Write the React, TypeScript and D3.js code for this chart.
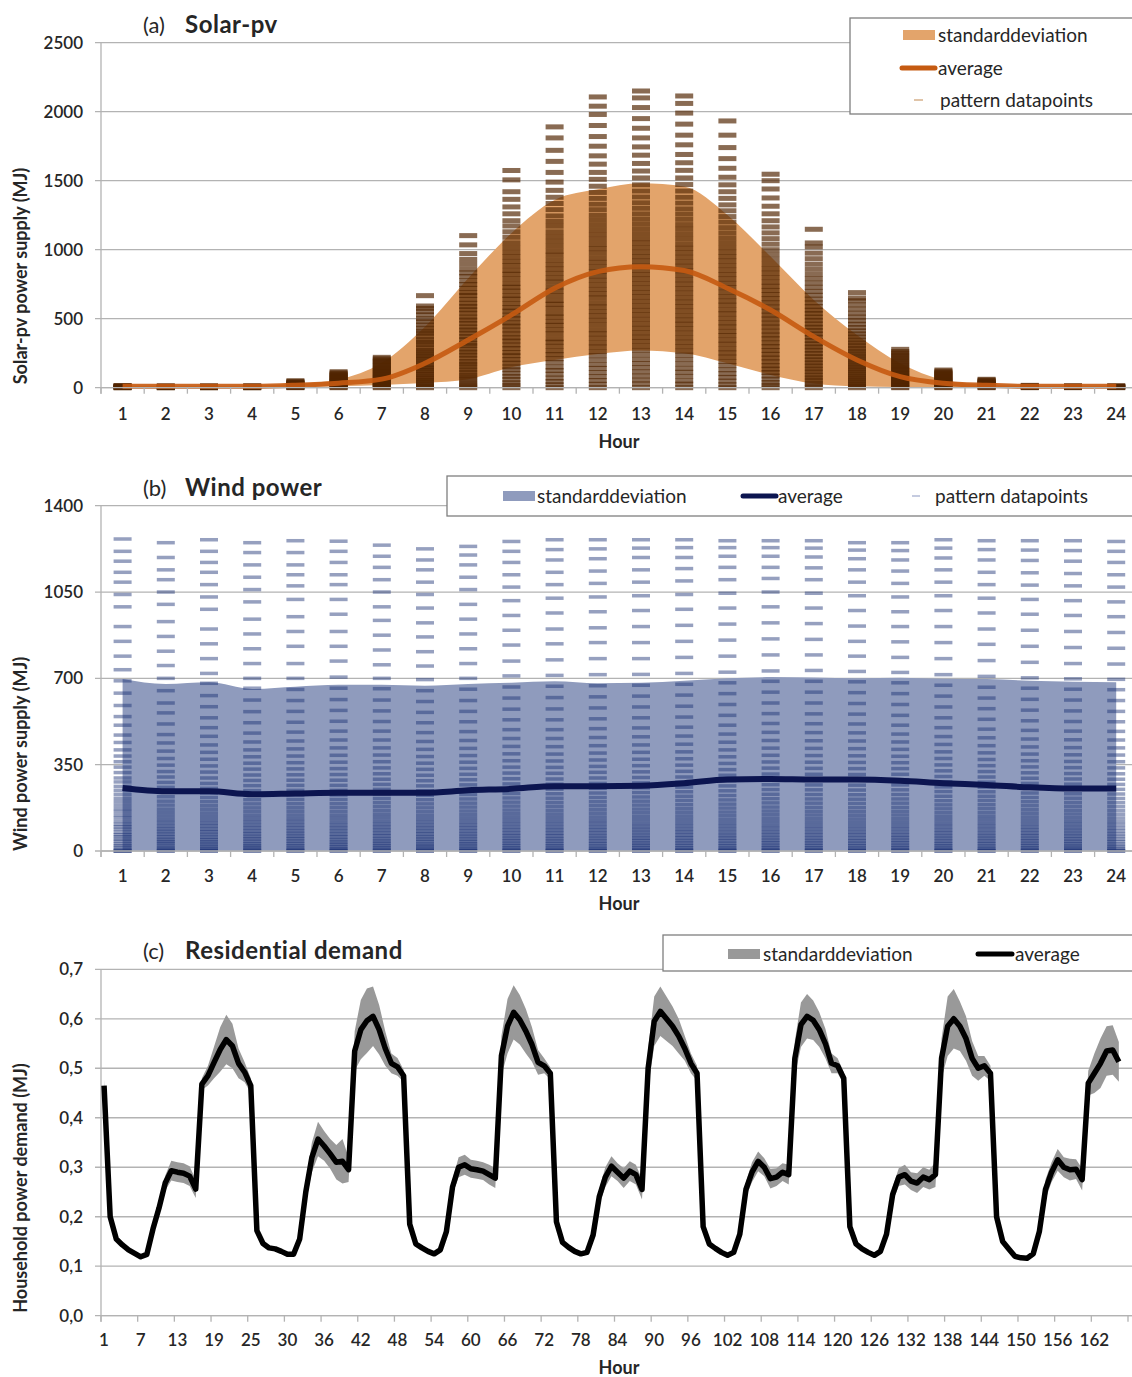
import React from 'react';
import * as d3 from 'd3';

// ---- data ----
const hourLabels = ['1','2','3','4','5','6','7','8','9','10','11','12','13','14','15','16','17','18','19','20','21','22','23','24'];

const solarTicks = [0, 500, 1000, 1500, 2000, 2500];
const solarAvg = [10,10,10,10,18,33,62,177,346,527,721,841,877,849,721,563,370,201,80,32,17,10,10,10];
const solarUpper = [15,15,15,15,28,60,180,442,793,1120,1361,1438,1482,1458,1252,950,636,382,177,56,22,15,15,15];
const solarLower = [5,5,5,5,8,10,20,34,61,148,201,244,270,249,177,92,30,10,5,5,5,5,5,5];
const solarPoints = [
  [0,0,2,4,6,8,10,12,14,15],
  [0,0,2,4,6,8,10,12,13],
  [0,0,2,4,6,8,10,12,13],
  [0,0,2,4,6,8,10,12,14],
  [0,2,4,7,10,13,16,19,22,25,28,32,36,40,45,51],
  [0,4,8,12,16,20,25,30,35,40,45,50,56,62,68,74,80,87,94,101,108,116],
  [0,6,12,18,24,30,38,46,54,62,70,78,86,95,104,113,122,131,140,150,160,170,180,190,200,210,220],
  [0,8,15,28,40,52,66,78,95,108,124,140,151,170,188,205,222,236,255,270,290,312,330,348,372,395,410,432,455,478,500,528,552,575,592,667],
  [0,12,25,41,58,76,90,112,130,152,171,190,214,236,258,280,305,322,348,370,395,418,440,466,490,512,540,565,588,612,640,668,690,720,748,775,806,832,860,895,930,972,1035,1102],
  [0,18,36,60,82,105,130,151,178,204,232,255,284,310,338,362,390,418,446,470,500,526,555,580,610,642,668,700,728,755,790,822,850,884,915,948,980,1015,1050,1090,1130,1172,1210,1260,1310,1365,1420,1506,1574],
  [0,22,45,70,98,125,150,182,210,240,268,300,330,355,390,420,452,480,512,540,575,605,632,668,700,730,765,795,828,860,892,925,960,990,1025,1060,1095,1130,1170,1205,1245,1290,1335,1380,1430,1490,1560,1640,1720,1810,1890],
  [0,25,52,80,110,140,168,200,232,262,295,325,358,390,420,455,488,520,552,585,615,650,680,712,745,778,810,842,875,908,940,975,1008,1040,1075,1110,1145,1180,1215,1250,1290,1330,1372,1415,1460,1510,1560,1620,1680,1750,1820,1900,1980,2040,2107],
  [0,28,55,85,115,145,175,205,238,270,302,335,366,398,430,462,495,528,560,592,625,658,690,722,755,788,820,852,885,918,950,982,1015,1048,1080,1115,1150,1186,1222,1260,1300,1340,1382,1425,1470,1520,1570,1625,1685,1745,1810,1880,1950,2030,2100,2150],
  [0,26,50,82,112,140,172,204,236,265,298,330,362,395,428,460,490,522,555,588,620,652,685,718,750,782,815,848,880,912,945,978,1010,1042,1078,1112,1148,1182,1220,1258,1296,1338,1380,1425,1472,1520,1575,1630,1690,1760,1830,1910,1990,2060,2114],
  [0,22,48,75,102,130,160,190,222,252,282,315,345,378,408,440,470,502,535,565,598,628,660,692,725,756,788,820,852,885,918,950,982,1015,1050,1085,1122,1160,1200,1240,1282,1325,1372,1420,1470,1525,1590,1660,1740,1830,1933],
  [0,18,38,62,85,110,135,160,188,215,242,270,298,325,355,382,410,440,468,498,526,555,585,615,645,675,705,735,765,798,830,862,895,930,965,1000,1040,1080,1122,1165,1210,1260,1315,1375,1440,1500,1547],
  [0,15,32,52,72,92,115,136,158,180,202,225,248,272,295,318,342,366,390,414,438,462,488,512,538,562,588,615,642,670,698,728,758,790,822,858,895,935,975,1020,1049,1148],
  [0,10,22,36,50,64,78,94,110,126,142,158,175,192,210,228,246,265,284,305,325,346,368,390,412,436,460,485,512,540,570,600,630,650,689],
  [0,5,12,20,28,36,45,54,63,72,82,92,102,112,122,133,144,155,166,178,190,202,214,226,238,250,262,278],
  [0,4,8,13,18,23,28,34,40,46,52,58,64,70,77,84,91,98,105,112,120,128],
  [0,3,6,10,14,18,22,26,31,36,41,46,51,56,61],
  [0,2,4,6,8,10,12,14,17],
  [0,2,4,6,8,10,12,14],
  [0,2,4,6,8,10,12,14],
];

const windTicks = [0, 350, 700, 1050, 1400];
const windAvg = [255,242,242,230,233,236,236,236,246,252,263,263,265,275,290,292,290,290,285,275,268,258,253,253];
const windUpper = [697,677,684,657,666,674,674,670,677,682,688,680,682,690,700,705,703,700,702,698,697,690,686,684];
const windPoints = [
  [0,0,0,6,14,22,30,40,48,58,66,76,88,98,108,120,134,146,160,172,186,200,214,230,246,262,280,296,318,340,362,385,410,440,470,510,545,590,640,690,735,790,850,910,990,1040,1090,1130,1175,1215,1265],
  [0,0,5,12,20,30,38,47,57,68,79,90,102,115,128,142,156,170,186,202,220,238,258,278,300,322,348,375,405,438,472,515,560,600,650,700,752,810,870,930,1000,1050,1100,1140,1190,1250],
  [0,0,4,11,19,28,37,46,56,67,78,89,101,113,126,140,154,169,184,200,217,235,254,274,296,320,345,372,400,430,465,500,540,585,630,680,720,780,840,900,980,1030,1080,1130,1170,1215,1262],
  [0,0,6,13,21,29,39,49,59,70,81,93,105,118,131,145,160,175,191,208,226,245,265,286,308,332,356,382,410,442,478,520,565,612,660,700,760,820,880,940,1010,1060,1110,1160,1210,1250],
  [0,0,5,12,21,30,40,50,60,71,82,94,106,119,132,146,161,176,192,209,227,246,266,287,309,333,358,385,414,446,482,522,566,610,655,700,760,830,890,950,1020,1075,1120,1160,1210,1258],
  [0,0,4,10,18,27,36,46,57,68,80,92,104,117,131,145,160,176,192,209,227,246,266,287,310,334,360,388,418,450,486,526,570,614,660,705,770,830,890,960,1020,1080,1120,1170,1215,1256],
  [0,0,6,14,22,31,40,50,61,72,84,96,108,121,135,149,164,180,196,213,231,250,270,291,313,337,362,389,418,450,486,525,568,612,658,700,755,815,875,935,990,1050,1100,1150,1195,1240],
  [0,0,5,12,20,28,38,48,58,69,80,92,104,117,130,144,159,175,191,208,226,244,264,285,307,331,356,383,412,444,480,520,562,606,650,695,750,808,868,925,985,1040,1090,1140,1180,1225],
  [0,0,4,11,20,29,38,48,59,70,82,94,106,119,133,147,162,178,194,211,229,248,268,289,311,335,360,387,416,448,484,524,566,610,656,700,760,820,880,940,1000,1060,1110,1160,1200,1235],
  [0,0,6,13,22,31,41,51,62,73,85,97,110,123,137,151,166,182,198,215,233,252,272,293,316,340,366,394,424,456,492,532,575,620,665,710,770,835,895,955,1015,1070,1120,1170,1215,1255],
  [0,0,5,12,21,30,40,50,61,72,84,96,109,122,136,150,165,181,197,214,232,251,271,292,315,339,365,393,423,456,492,532,576,622,668,712,775,840,900,965,1025,1080,1130,1180,1222,1262],
  [0,0,4,11,20,30,40,51,62,74,86,98,111,124,138,153,168,184,200,217,235,254,274,296,319,343,369,397,427,460,496,536,580,625,670,715,780,845,905,970,1030,1085,1135,1185,1225,1262],
  [0,0,6,14,23,32,42,52,63,75,87,99,112,126,140,155,170,186,202,219,237,256,276,298,321,346,372,400,430,463,499,540,584,628,672,716,780,845,910,975,1035,1090,1140,1190,1228,1262],
  [0,0,5,13,22,32,42,53,64,76,88,101,114,128,142,157,172,188,205,222,240,259,279,300,323,348,374,402,433,466,502,543,587,632,676,720,785,850,915,980,1040,1095,1145,1190,1230,1262],
  [0,0,5,12,21,31,41,52,63,75,88,101,114,128,143,158,174,190,207,225,244,264,285,307,330,355,382,410,441,474,510,550,594,638,682,725,790,855,920,985,1045,1100,1150,1195,1230,1258],
  [0,0,6,14,23,33,43,54,66,78,91,104,118,132,147,162,178,195,212,230,249,269,290,312,336,361,388,417,448,481,517,557,600,644,688,730,795,860,925,990,1050,1105,1150,1195,1230,1258],
  [0,0,5,13,22,32,42,53,65,77,90,103,117,131,146,161,177,194,211,229,248,268,289,311,335,360,387,416,447,480,516,556,600,644,688,732,795,858,922,985,1045,1100,1148,1192,1228,1258],
  [0,0,4,12,21,31,41,52,64,76,89,102,116,130,145,160,176,193,210,228,247,267,288,310,334,359,386,415,446,479,515,555,598,642,686,728,790,850,912,975,1035,1090,1140,1185,1220,1250],
  [0,0,6,14,23,33,43,54,65,77,90,103,117,131,146,161,177,194,211,229,248,268,289,311,334,358,384,412,442,474,510,550,594,638,682,724,785,848,910,970,1030,1085,1135,1180,1218,1250],
  [0,0,5,12,21,30,40,51,62,74,86,99,112,126,140,155,171,187,204,222,241,260,281,302,325,349,375,402,432,464,500,540,584,628,672,715,780,845,910,975,1035,1090,1140,1188,1228,1262],
  [0,0,4,11,20,30,40,51,62,74,87,100,113,127,141,156,172,188,205,222,240,259,279,300,322,346,371,398,427,459,494,534,577,620,664,708,772,838,900,965,1025,1080,1130,1180,1222,1258],
  [0,0,6,13,22,31,41,51,62,73,85,97,110,124,138,153,168,184,200,217,235,254,274,295,317,341,366,393,422,454,489,528,571,615,660,702,765,830,895,960,1020,1078,1128,1178,1220,1258],
  [0,0,5,12,20,29,39,49,60,71,83,95,108,121,135,150,165,181,197,214,232,251,271,292,314,338,363,390,419,451,486,525,568,612,656,698,760,825,890,955,1015,1075,1125,1175,1218,1258],
  [0,0,4,11,19,28,38,48,59,70,82,94,107,120,134,149,164,180,196,213,231,250,270,291,313,337,362,389,418,450,485,524,566,610,654,696,758,822,886,950,1010,1070,1120,1170,1215,1255],
];

const demandTicks = [0, 0.1, 0.2, 0.3, 0.4, 0.5, 0.6, 0.7];
const demandTickLabels = ['0,0','0,1','0,2','0,3','0,4','0,5','0,6','0,7'];
const demandHourLabels = ['1','7','13','19','25','30','36','42','48','54','60','66','72','78','84','90','96','102','108','114','120','126','132','138','144','150','156','162'];
const demandAvg = [
  0.465,0.2,0.155,0.143,0.133,0.126,0.119,0.124,0.175,0.218,0.268,0.293,0.29,0.288,0.282,0.256,0.468,0.485,0.512,0.538,0.558,0.545,0.51,0.492,0.465,
  0.172,0.146,0.137,0.135,0.13,0.124,0.124,0.155,0.25,0.32,0.357,0.343,0.327,0.31,0.312,0.295,0.535,0.578,0.596,0.605,0.578,0.54,0.51,0.503,0.485,
  0.185,0.145,0.137,0.13,0.125,0.133,0.17,0.26,0.3,0.305,0.297,0.295,0.292,0.285,0.278,0.525,0.585,0.613,0.598,0.575,0.548,0.512,0.505,0.49,
  0.19,0.148,0.138,0.13,0.125,0.128,0.163,0.24,0.28,0.302,0.29,0.278,0.292,0.285,0.255,0.5,0.595,0.615,0.6,0.585,0.565,0.54,0.51,0.49,
  0.18,0.145,0.136,0.128,0.122,0.128,0.165,0.255,0.29,0.312,0.3,0.277,0.28,0.29,0.285,0.52,0.588,0.605,0.597,0.578,0.55,0.51,0.505,0.48,
  0.18,0.145,0.135,0.128,0.122,0.13,0.165,0.245,0.28,0.285,0.272,0.268,0.28,0.275,0.285,0.52,0.585,0.6,0.585,0.56,0.52,0.5,0.505,0.49,
  0.2,0.15,0.135,0.12,0.117,0.116,0.125,0.17,0.255,0.29,0.315,0.3,0.295,0.296,0.275,0.47,0.49,0.51,0.535,0.537,0.513,
];
const demandStd = [
  0.012,0.006,0.004,0.004,0.004,0.004,0.004,0.005,0.007,0.01,0.015,0.02,0.02,0.02,0.02,0.018,0.012,0.02,0.032,0.045,0.05,0.045,0.03,0.02,0.015,
  0.008,0.005,0.004,0.004,0.004,0.004,0.005,0.008,0.02,0.03,0.035,0.03,0.03,0.035,0.045,0.025,0.04,0.06,0.065,0.06,0.05,0.035,0.02,0.018,0.012,
  0.008,0.005,0.004,0.004,0.004,0.005,0.008,0.015,0.02,0.02,0.018,0.018,0.018,0.02,0.02,0.04,0.055,0.055,0.05,0.045,0.035,0.025,0.015,0.012,
  0.008,0.005,0.004,0.004,0.004,0.005,0.008,0.015,0.02,0.02,0.018,0.02,0.02,0.02,0.02,0.04,0.05,0.05,0.045,0.04,0.035,0.025,0.02,0.015,
  0.008,0.005,0.004,0.004,0.004,0.005,0.008,0.015,0.02,0.02,0.018,0.02,0.018,0.018,0.02,0.035,0.045,0.045,0.04,0.035,0.03,0.02,0.015,0.012,
  0.008,0.005,0.004,0.004,0.004,0.005,0.008,0.015,0.018,0.02,0.018,0.02,0.02,0.02,0.025,0.04,0.06,0.06,0.05,0.045,0.035,0.025,0.02,0.015,
  0.008,0.005,0.004,0.004,0.004,0.004,0.006,0.012,0.02,0.02,0.022,0.02,0.022,0.02,0.022,0.025,0.04,0.05,0.05,0.05,0.04,
];

// ---- look ----
const FONT = 'Lato, "Open Sans", sans-serif';
const TXT = '#262626';
const GRID = '#b3b3b3';
const LEFT = 101;
const RIGHT = 1132;

type YAxisProps = { y: d3.ScaleLinear<number, number>; ticks: number[]; labels: string[] };

function YGrid({ y, ticks, labels }: YAxisProps) {
  return (
    <g>
      {ticks.map((t, i) => (
        <g key={i}>
          <line x1={LEFT - 6} x2={RIGHT} y1={y(t)} y2={y(t)} stroke={GRID} strokeWidth={1.3} />
          <text x={83} y={y(t) + 6} textAnchor="end" fontSize={17} fill={TXT} fontWeight={600}>{labels[i]}</text>
        </g>
      ))}
      <line x1={LEFT} x2={LEFT} y1={y(ticks[ticks.length - 1])} y2={y(0) + 6} stroke={GRID} strokeWidth={1.3} />
    </g>
  );
}

function HourAxis({ x, y0, labelY }: { x: d3.ScaleBand<string>; y0: number; labelY: number }) {
  const edges = hourLabels.map(h => x(h)!);
  return (
    <g>
      {edges.map((e, i) => (
        <line key={i} x1={e} x2={e} y1={y0} y2={y0 + 6} stroke={GRID} strokeWidth={1.3} />
      ))}
      {hourLabels.map(h => (
        <text key={h} x={x(h)! + x.bandwidth() / 2} y={labelY} textAnchor="middle" fontSize={17} fill={TXT} fontWeight={600}>{h}</text>
      ))}
      <text x={619} y={labelY + 28} textAnchor="middle" fontSize={18} fontWeight={700} fill={TXT}>Hour</text>
    </g>
  );
}

function Title({ tag, name, y }: { tag: string; name: string; y: number }) {
  return (
    <g fill={TXT}>
      <text x={143} y={y} fontSize={22}>{tag}</text>
      <text x={185} y={y} fontSize={24} fontWeight={700} letterSpacing={0.5}>{name}</text>
    </g>
  );
}

function YTitle({ text, cy }: { text: string; cy: number }) {
  return (
    <text transform={`translate(27,${cy}) rotate(-90)`} textAnchor="middle" fontSize={18} fontWeight={700} fill={TXT}>{text}</text>
  );
}

export default function App() {
  const x = d3.scaleBand<string>().domain(hourLabels).range([LEFT, LEFT + 24 * 43.2]);
  const cx = (i: number) => x(hourLabels[i])! + x.bandwidth() / 2;
  const yA = d3.scaleLinear().domain([0, 2500]).range([387.7, 42.7]);
  const yB = d3.scaleLinear().domain([0, 1400]).range([851, 505.7]);
  const xC = d3.scaleLinear().domain([0.5, 168.5]).range([LEFT, 1128]);
  const yC = d3.scaleLinear().domain([0, 0.7]).range([1315.7, 969.3]);

  const idx = hourLabels.map((_, i) => i);
  const solarBand = d3.area<number>().x(i => cx(i)).y0(i => yA(solarLower[i])).y1(i => yA(solarUpper[i])).curve(d3.curveMonotoneX);
  const solarLine = d3.line<number>().x(i => cx(i)).y(i => yA(solarAvg[i])).curve(d3.curveMonotoneX);
  const windBand = d3.area<number>().x(i => cx(i)).y0(yB(0)).y1(i => yB(windUpper[i])).curve(d3.curveMonotoneX);
  const windLine = d3.line<number>().x(i => cx(i)).y(i => yB(windAvg[i])).curve(d3.curveMonotoneX);

  const cIdx = demandAvg.map((_, i) => i);
  const demandBand = d3.area<number>().x(i => xC(i + 1)).y0(i => yC(demandAvg[i] - demandStd[i])).y1(i => yC(demandAvg[i] + demandStd[i]));
  const demandLine = d3.line<number>().x(i => xC(i + 1)).y(i => yC(demandAvg[i]));

  const dashW = 18;
  const legendFont = 19;

  return (
    <svg width={1132} height={1377} style={{ position: 'absolute', left: 0, top: 0, background: '#fff' }} fontFamily={FONT}>
      <rect width={1132} height={1377} fill="#fff" />

      {/* (a) Solar-pv */}
      <Title tag="(a)" name="Solar-pv" y={33} />
      <YGrid y={yA} ticks={solarTicks} labels={solarTicks.map(String)} />
      <path d={solarBand(idx)!} fill="#e3a46b" />
      {solarPoints.map((pts, i) => pts.map((v, j) => (
        <rect key={`s${i}-${j}`} x={cx(i) - dashW / 2} y={yA(v) - 2.5} width={dashW} height={5} fill="#512502" fillOpacity={0.68} />
      )))}
      <path d={solarLine(idx)!} fill="none" stroke="#c55a11" strokeWidth={5} strokeOpacity={0.9} />
      <line x1={LEFT} x2={RIGHT} y1={yA(0)} y2={yA(0)} stroke={GRID} strokeWidth={1.3} />
      <HourAxis x={x} y0={yA(0)} labelY={420} />
      <YTitle text="Solar-pv power supply (MJ)" cy={276} />
      <g>
        <rect x={850} y={18} width={290} height={96} fill="#fff" stroke="#7f7f7f" strokeWidth={1.3} />
        <rect x={903} y={30} width={32} height={10} fill="#e3a46b" />
        <text x={938} y={42} fontSize={legendFont} fill={TXT}>standarddeviation</text>
        <line x1={902} x2={935} y1={68} y2={68} stroke="#c55a11" strokeWidth={5} strokeLinecap="round" />
        <text x={938} y={75} fontSize={legendFont} fill={TXT}>average</text>
        <rect x={914} y={99} width={9} height={2} fill="#e0c4a8" />
        <text x={940} y={107} fontSize={legendFont} fill={TXT}>pattern datapoints</text>
      </g>

      {/* (b) Wind power */}
      <Title tag="(b)" name="Wind power" y={496} />
      <YGrid y={yB} ticks={windTicks} labels={windTicks.map(String)} />
      <path d={windBand(idx)!} fill="#8f9bbd" />
      {windPoints.map((pts, i) => pts.map((v, j) => (
        <rect key={`w${i}-${j}`} x={cx(i) - dashW / 2} y={yB(v) - 1.75} width={dashW} height={3.5} fill="#1b2f74" fillOpacity={0.46} />
      )))}
      <path d={windLine(idx)!} fill="none" stroke="#0c1550" strokeWidth={6} />
      <line x1={LEFT} x2={RIGHT} y1={yB(0)} y2={yB(0)} stroke={GRID} strokeWidth={1.3} />
      <HourAxis x={x} y0={yB(0)} labelY={882} />
      <YTitle text="Wind power supply (MJ)" cy={754} />
      <g>
        <rect x={447} y={476} width={700} height={40} fill="#fff" stroke="#7f7f7f" strokeWidth={1.3} />
        <rect x={503} y={491} width={32} height={10} fill="#8f9bbd" />
        <text x={537} y={503} fontSize={legendFont} fill={TXT}>standarddeviation</text>
        <line x1={743} x2={776} y1={496} y2={496} stroke="#0c1550" strokeWidth={5} strokeLinecap="round" />
        <text x={778} y={503} fontSize={legendFont} fill={TXT}>average</text>
        <rect x={912} y={495} width={8} height={2} fill="#c5cbe0" />
        <text x={935} y={503} fontSize={legendFont} fill={TXT}>pattern datapoints</text>
      </g>

      {/* (c) Residential demand */}
      <Title tag="(c)" name="Residential demand" y={959} />
      <YGrid y={yC} ticks={demandTicks} labels={demandTickLabels} />
      <path d={demandBand(cIdx)!} fill="#999999" />
      <path d={demandLine(cIdx)!} fill="none" stroke="#000" strokeWidth={5.5} strokeLinejoin="round" />
      <line x1={LEFT} x2={RIGHT} y1={yC(0)} y2={yC(0)} stroke={GRID} strokeWidth={1.3} />
      {demandHourLabels.map((l, k) => (
        <g key={l}>
          <line x1={xC(k * 6 + 0.5)} x2={xC(k * 6 + 0.5)} y1={yC(0)} y2={yC(0) + 6} stroke={GRID} strokeWidth={1.3} />
          <text x={xC(k * 6 + 1)} y={1346} textAnchor="middle" fontSize={17} fill={TXT} fontWeight={600}>{l}</text>
        </g>
      ))}
      <line x1={xC(168.5)} x2={xC(168.5)} y1={yC(0)} y2={yC(0) + 6} stroke={GRID} strokeWidth={1.3} />
      <text x={619} y={1374} textAnchor="middle" fontSize={18} fontWeight={700} fill={TXT}>Hour</text>
      <YTitle text="Household power demand (MJ)" cy={1188} />
      <g>
        <rect x={663} y={935} width={480} height={36} fill="#fff" stroke="#7f7f7f" strokeWidth={1.3} />
        <rect x={728} y={949} width={32} height={10} fill="#999999" />
        <text x={763} y={961} fontSize={legendFont} fill={TXT}>standarddeviation</text>
        <line x1={978} x2={1012} y1={954} y2={954} stroke="#000" strokeWidth={5} strokeLinecap="round" />
        <text x={1015} y={961} fontSize={legendFont} fill={TXT}>average</text>
      </g>
    </svg>
  );
}
